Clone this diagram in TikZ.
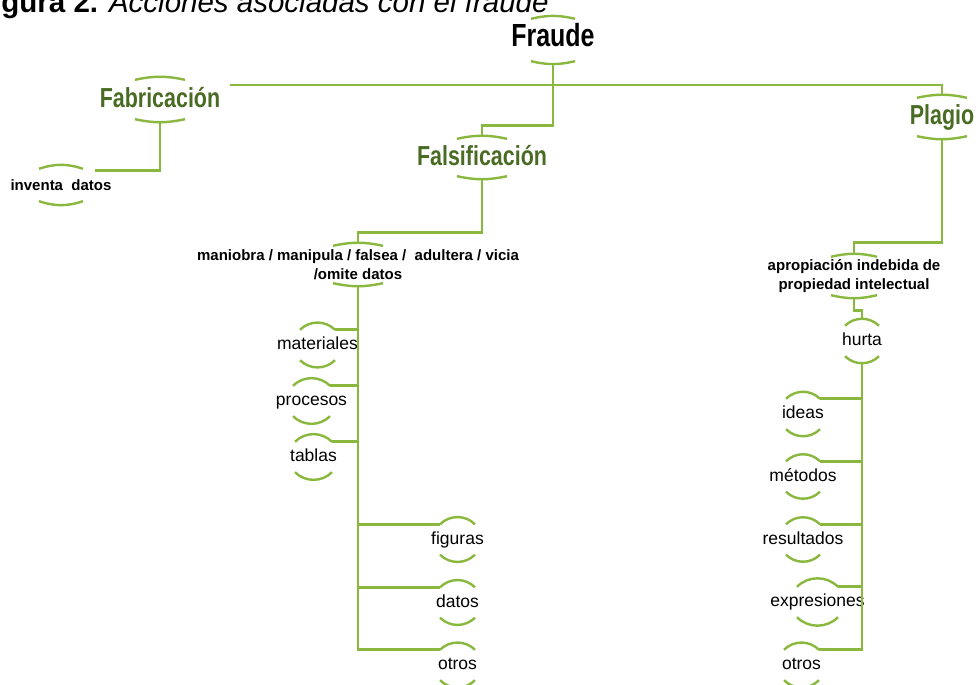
\documentclass[tikz,border=0pt]{standalone}
\usepackage{fontspec}
\setmainfont{Liberation Sans}
\newfontfamily\angosta[FakeStretch=0.78]{Liberation Sans}
\usetikzlibrary{calc}
\definecolor{verdelinea}{HTML}{8AB83E}
\definecolor{verdetexto}{HTML}{4A6B23}
\newcommand{\arcos}[4]{%
  \draw[arco] ($(#1.north)+(-#2,-#3)$) to[bend left=#4] ($(#1.north)+(#2,-#3)$);
  \draw[arco] ($(#1.south)+(-#2,#3)$) to[bend right=#4] ($(#1.south)+(#2,#3)$);}
\begin{document}
\begin{tikzpicture}
        [x=1pt,y=1pt,
         linea/.style={draw=verdelinea,line width=2.6pt},
         arco/.style={draw=verdelinea,line width=2.4pt},
         titulo/.style={inner sep=0pt,text height=20pt,text depth=4pt,
           font=\angosta\bfseries\fontsize{27.5}{30}\selectfont,text=verdetexto},
         rama/.style={inner sep=0pt,align=center,
           font=\bfseries\fontsize{15}{19}\selectfont},
         hoja/.style={inner sep=0pt,minimum height=44pt,text height=13pt,text depth=3pt,
           font=\fontsize{17.5}{20}\selectfont}]
        \useasboundingbox (0,0) rectangle (978,685);
        \clip (0,0) rectangle (978,685);

        \node[anchor=base west,inner sep=0pt,font=\fontsize{29.5}{32}\selectfont] (fig2) at (-25,672)
          {\textbf{Figura 2.} \textit{Acciones asociadas con el fraude}};

        \node[titulo,text=black,minimum height=48pt,text height=23pt,text depth=9pt,
          font=\angosta\bfseries\fontsize{32}{36}\selectfont] (fraude) at (553,645) {Fraude};
        \node[titulo,minimum height=45pt] (fabric) at (160,585.5) {Fabricación};
        \node[titulo,minimum height=43pt] (falsif) at (482,527.5) {Falsificación};
        \node[titulo,minimum height=44pt] (plagio) at (942,568) {Plagio};

        \node[rama,minimum height=40pt] (inventa) at (61,500) {inventa\ \ datos};
        \node[rama,minimum height=43pt] (manio) at (358,420.5) {maniobra / manipula / falsea /\ \ adultera / vicia\\/omite datos};
        \node[rama,minimum height=44pt] (aprop) at (854,409) {apropiación indebida de\\propiedad intelectual};

        \node[hoja] (mat) at (317.5,340) {materiales};
        \node[hoja] (proc) at (311.5,284) {procesos};
        \node[hoja] (tab) at (313.5,228) {tablas};
        \node[hoja] (fig) at (457.5,145.5) {figuras};
        \node[hoja] (dat) at (457.5,82.5) {datos};
        \node[hoja] (otr) at (457.5,20) {otros};

        \node[hoja] (hurta) at (862,344) {hurta};
        \node[hoja] (ideas) at (803,271) {ideas};
        \node[hoja] (met) at (803,208.5) {métodos};
        \node[hoja] (res) at (803,145.5) {resultados};
        \node[hoja] (expr) at (817.5,83) {expresiones};
        \node[hoja] (otr2) at (801.5,20) {otros};

        \coordinate (izq) at (230,600);

        \draw[linea] (izq) -| (plagio.north);
        \draw[linea] (fraude.south) |- ($(falsif.north)+(0,10)$) -- (falsif.north);
        \draw[linea] (fabric.south) |- ($(inventa.north)+(34,-6)$);
        \draw[linea] (falsif.south) |- ($(manio.north)+(0,10)$) -- (manio.north);
        \draw[linea] (plagio.south) |- ($(aprop.north)+(0,11)$) -- (aprop.north);
        \draw[linea] (aprop.south) |- ($(hurta.north)+(0,8)$) -- (hurta.north);

        \foreach \n/\w in {mat/17.5,proc/18.5,tab/18.5}
        {\draw[linea] ($(\n.north)+(\w,-7)$) -| (manio.south);}
        \foreach \n in {fig,dat,otr}
        {\draw[linea] ($(\n.north)+(-17.5,-7)$) -| (manio.south);}
        \foreach \n/\w in {ideas/17,met/17,res/17,expr/20.5,otr2/17.5}
        {\draw[linea] ($(\n.north)+(\w,-7)$) -| (hurta.south);}

        \foreach \n/\w/\d/\b in {fraude/22/3/13,fabric/25/3/12,falsif/25/3/12,plagio/25/3/12,
          manio/25/3/12,aprop/23/3/13,inventa/22/4/18}
        {\arcos{\n}{\w}{\d}{\b}}
        \foreach \n/\w in {mat/17.5,proc/18.5,tab/18.5,fig/17.5,dat/17.5,otr/17.5,
          hurta/17,ideas/17,met/17,res/17,expr/20.5,otr2/17.5}
        {\arcos{\n}{\w}{7}{45}}
      \end{tikzpicture}
\end{document}
